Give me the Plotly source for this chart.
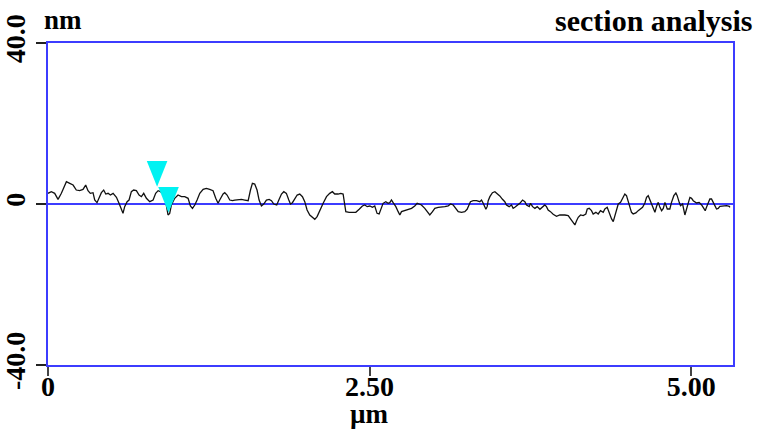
import plotly.graph_objects as go

# Section profile: lateral position (µm) and height (nm)
pos_um = [
    0.000, 0.026, 0.052, 0.078, 0.104, 0.143, 0.169, 0.195, 0.220, 0.246,
    0.272, 0.293, 0.311, 0.329, 0.350, 0.363, 0.381, 0.402, 0.415, 0.433,
    0.449, 0.467, 0.485, 0.506, 0.532, 0.552, 0.570, 0.583, 0.596, 0.615,
    0.630, 0.648, 0.666, 0.687, 0.708, 0.726, 0.744, 0.765, 0.791, 0.817,
    0.837, 0.856, 0.874, 0.894, 0.915, 0.933, 0.946, 0.959, 0.985, 1.011,
    1.037, 1.063, 1.089, 1.107, 1.123, 1.141, 1.159, 1.180, 1.206, 1.231,
    1.257, 1.283, 1.304, 1.322, 1.335,
    1.361, 1.374, 1.392, 1.413, 1.434, 1.452, 1.478, 1.504, 1.530, 1.556,
    1.574, 1.589, 1.607, 1.625, 1.641, 1.659, 1.677, 1.698, 1.719, 1.737,
    1.755, 1.778, 1.797, 1.815, 1.833, 1.853, 1.872, 1.885, 1.900, 1.918,
    1.937, 1.957, 1.978, 1.996, 2.014, 2.035, 2.056, 2.074, 2.092, 2.113,
    2.139, 2.165, 2.190, 2.211, 2.229, 2.255, 2.276, 2.294, 2.307, 2.315,
    2.341, 2.367, 2.393, 2.419, 2.444, 2.463, 2.481, 2.502, 2.522, 2.540,
    2.558, 2.574, 2.592, 2.605, 2.626, 2.644, 2.657,
    2.670, 2.683, 2.704, 2.722, 2.735, 2.748, 2.774, 2.800, 2.826, 2.851,
    2.870, 2.885, 2.903, 2.929, 2.947, 2.968, 2.989, 3.007, 3.033, 3.059,
    3.085, 3.111, 3.129, 3.150, 3.170, 3.189, 3.215, 3.240, 3.258, 3.274,
    3.284, 3.305, 3.331, 3.357, 3.370, 3.383, 3.404, 3.414, 3.422, 3.435,
    3.455, 3.474, 3.492, 3.512, 3.533, 3.551, 3.564, 3.585, 3.603, 3.616,
    3.629, 3.642, 3.668, 3.689, 3.707, 3.720, 3.741, 3.751, 3.767, 3.785,
    3.803, 3.824, 3.844, 3.862, 3.875, 3.888, 3.906, 3.927, 3.953, 3.979,
    4.018, 4.044, 4.062, 4.083, 4.096, 4.109, 4.122, 4.140, 4.160, 4.181,
    4.192, 4.207, 4.225, 4.238, 4.259, 4.277, 4.295, 4.316, 4.329, 4.347,
    4.363, 4.381, 4.394, 4.407, 4.420, 4.433, 4.451, 4.471, 4.484, 4.497,
    4.510, 4.523, 4.536, 4.549, 4.570, 4.588, 4.606, 4.622, 4.640, 4.653,
    4.666, 4.679, 4.692, 4.705, 4.718, 4.731, 4.744, 4.757, 4.770, 4.783,
    4.796, 4.814, 4.834, 4.847, 4.865, 4.881, 4.891, 4.907, 4.917, 4.933,
    4.943, 4.951, 4.964, 4.977, 4.990, 5.003, 5.016, 5.042, 5.062, 5.081,
    5.099, 5.109, 5.119, 5.132, 5.145, 5.158, 5.171, 5.184, 5.197, 5.210,
    5.223, 5.249, 5.275, 5.296, 5.301,
]
height_nm = [
    2.65, 3.06, 2.65, 1.16, 2.65, 5.54, 5.13, 4.71, 3.47, 3.31,
    3.64, 4.71, 3.31, 2.65, 2.81, 0.99, 0.33, 1.82, 2.81, 3.47,
    2.48, 2.65, 2.23, 2.65, 1.65, 0.17, -1.32, -2.32, -0.66, 0.58,
    0.99, 3.06, 3.47, 3.31, 2.23, 1.82, 2.65, 1.41, 0.58, 0.99,
    2.65, 3.31, 3.06, 2.65, 0.58, -2.73, -2.32, -0.25, 1.41, 2.23,
    1.82, 1.82, 1.41, -0.50, -1.08, -0.25, 0.99, 2.65, 3.64, 3.89,
    3.64, 3.31, 1.41, 0.17, 0.99,
    2.48, 2.81, 2.23, 0.99, 0.83, 0.99, 1.16, 1.16, 0.99, 0.83,
    3.47, 5.13, 4.96, 3.47, 0.99, -0.50, 0.00, 0.99, 1.16, 0.83,
    0.00, -0.25, 1.16, 2.48, 3.06, 2.65, 0.99, 0.00, 0.33, 1.41,
    2.23, 2.48, 1.82, 0.58, -1.49, -2.73, -3.39, -3.81, -3.14, -1.49,
    0.17, 1.82, 2.65, 3.06, 2.48, 2.48, 2.65, 2.48, 0.17, -1.90,
    -2.07, -2.07, -2.07, -1.32, -0.50, -0.25, -0.66, -0.50, -0.83, -0.50,
    -2.32, -2.48, -1.08, 0.17, 0.58, 0.17, 0.33,
    0.99, 0.33, -0.66, -1.90, -2.73, -1.90, -1.65, -1.49, -1.08, -0.50,
    0.17, 0.00, -0.25, -1.08, -1.90, -2.73, -1.90, -1.08, -0.83, -0.83,
    -0.66, -0.50, 0.00, -0.25, -1.08, -1.90, -2.07, -1.90, -1.32, -0.25,
    0.58, 0.83, 0.83, 0.58, 0.99, 0.17, -1.32, -0.66, 0.83, 1.82,
    2.81, 3.06, 2.65, 2.00, 1.16, 0.58, -0.25, -0.66, -0.25, -1.08,
    -0.83, -0.50, 0.17, 0.99, 0.58, -0.25, -0.66, 0.17, -0.66, -1.08,
    -0.66, -1.32, -0.83, -0.25, -0.66, -1.49, -1.90, -2.56, -3.06, -2.73,
    -2.73, -2.90, -3.72, -4.71, -5.21, -4.14, -3.31, -2.73, -2.90, -2.48,
    -1.24, -1.08, -1.65, -2.48, -2.07, -2.48, -1.65, -2.07, -1.24, -0.83,
    -2.23, -3.72, -4.38, -2.90, -1.24, 0.00, 0.41, 1.65, 2.48, 2.07,
    0.83, -0.83, -2.07, -2.48, -2.23, -1.65, -1.08, -0.83, 0.25, 1.65,
    2.07, 1.08, 0.00, -1.24, -2.07, -0.58, 0.41, -0.83, -1.65, -1.08,
    0.41, -1.24, -1.24, 0.41, 2.07, 2.73, 2.07, 0.41, -0.41, 0.00,
    -1.24, -2.73, -1.24, 0.41, 1.65, 1.41, 0.83, 0.25, 0.41, -0.25,
    -1.24, -1.65, -0.83, 0.41, 1.24, 1.24, 0.58, -0.41, -1.24, -1.08,
    -0.58, -0.41, -0.41, -0.58, -0.83,
]

# Measurement cursors: position (µm) and tip height (nm)
cursor_x = [0.848, 0.937]
cursor_tip = [4.3, -2.2]

x_tick_vals = [0, 2.5, 5.0]
x_tick_text = ["0", "2.50", "5.00"]
y_tick_vals = [-40, 0, 40]
y_tick_text = ["-40.0", "0", "40.0"]

X_RANGE = [0, 5.325]
Y_RANGE = [-40, 40]

FRAME = "#3c3cff"
CURSOR = "#00f2f2"
FONT = "Liberation Serif"

# cursor glyph size in data units
TRI_W = 0.16
TRI_H = 6.4

fig = go.Figure()

fig.add_trace(go.Scatter(
    x=pos_um, y=height_nm, mode="lines",
    line=dict(color="#111111", width=1.3),
    hoverinfo="skip", showlegend=False,
))

for cx, ct in zip(cursor_x, cursor_tip):
    fig.add_trace(go.Scatter(
        x=[cx - TRI_W / 2, cx + TRI_W / 2, cx, cx - TRI_W / 2],
        y=[ct + TRI_H, ct + TRI_H, ct, ct + TRI_H],
        mode="lines", fill="toself", fillcolor=CURSOR,
        line=dict(color=CURSOR, width=0),
        hoverinfo="skip", showlegend=False,
    ))

tick_font = dict(family=FONT, size=28, color="#000000", weight="bold")

fig.update_layout(
    width=762, height=431,
    margin=dict(l=48, r=29, t=43, b=66),
    paper_bgcolor="white", plot_bgcolor="white",
    xaxis=dict(
        range=X_RANGE, tickvals=x_tick_vals, ticktext=x_tick_text,
        automargin=False,
        showgrid=False, zeroline=False,
        showline=True, linecolor=FRAME, linewidth=2, mirror=True,
        ticks="outside", ticklen=9, tickwidth=1.5, tickcolor="#444444",
        tickfont=tick_font, ticklabelstandoff=-14,
    ),
    yaxis=dict(
        range=Y_RANGE, tickvals=y_tick_vals, ticktext=y_tick_text,
        tickangle=-90, automargin=False,
        showgrid=False, zeroline=True, zerolinecolor=FRAME, zerolinewidth=1.5,
        showline=True, linecolor=FRAME, linewidth=2, mirror=True,
        ticks="outside", ticklen=10, tickwidth=1.5, tickcolor="#222222",
        tickfont=tick_font,
    ),
    annotations=[
        dict(text="nm", xref="paper", yref="paper", x=-0.009, y=1.07,
             xanchor="left", yanchor="middle", showarrow=False,
             font=dict(family=FONT, size=27, color="#000000", weight="bold")),
        dict(text="section analysis", xref="paper", yref="paper", x=1.032, y=1.07,
             xanchor="right", yanchor="middle", showarrow=False,
             font=dict(family=FONT, size=30, color="#000000", weight="bold")),
        dict(text="µm", xref="paper", yref="paper", x=0.4696, y=-0.152,
             xanchor="center", yanchor="middle", showarrow=False,
             font=dict(family=FONT, size=27, color="#000000", weight="bold")),
    ],
)

fig.write_html("out.html")
